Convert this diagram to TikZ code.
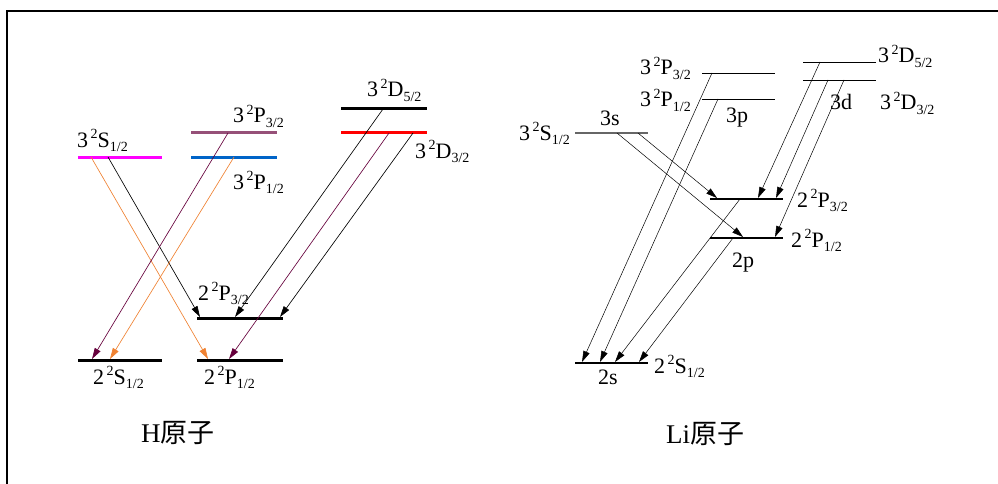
\documentclass[tikz,border=0pt]{standalone}
\usepackage{fontspec}
\setmainfont{Liberation Serif}
\newfontfamily\cjk{Noto Sans CJK SC}
\usetikzlibrary{arrows.meta}
\definecolor{hmag}{RGB}{255,0,255}
\definecolor{hpur}{RGB}{150,80,120}
\definecolor{hblu}{RGB}{0,100,200}
\definecolor{hred}{RGB}{255,0,0}
\definecolor{arpur}{RGB}{102,0,60}
\definecolor{arora}{RGB}{240,130,50}
\newcommand{\lv}[3]{#1\hspace{2.5pt}\raisebox{8.5pt}{\fontsize{14}{14}\selectfont 2}#2\raisebox{-4.5pt}{\fontsize{14}{14}\selectfont #3}}
\begin{document}
\begin{tikzpicture}[x=1pt,y=-1pt,
  hlev/.style={line width=3pt},
  lilev/.style={line width=1.2pt},
  tr/.style={line width=0.65pt,-{Triangle[length=11pt,width=6.5pt]}},
  lbl/.style={anchor=base west,inner sep=0pt,font=\fontsize{22}{24}\selectfont},
  ttl/.style={anchor=base west,inner sep=0pt,font=\fontsize{27}{30}\selectfont}]
\useasboundingbox (0,0) rectangle (998,484);
\fill[white] (0,0) rectangle (998,484);
% frame
\coordinate (f1) at (998,11);
\coordinate (f2) at (7,11);
\coordinate (f3) at (7,484);
\draw[line width=2pt] (f1) -- (f2) -- (f3);

% ---------- H atom levels ----------
\coordinate (hS3l) at (78,157); \coordinate (hS3r) at (162,157);
\coordinate (hP3l) at (191,133); \coordinate (hP3r) at (277,133);
\coordinate (hP1l) at (191,157); \coordinate (hP1r) at (277,157);
\coordinate (hD5l) at (341,109); \coordinate (hD5r) at (427,109);
\coordinate (hD3l) at (341,133); \coordinate (hD3r) at (427,133);
\coordinate (h2P3l) at (197,318); \coordinate (h2P3r) at (283,318);
\coordinate (h2Sl) at (78,360); \coordinate (h2Sr) at (162,360);
\coordinate (h2P1l) at (197,360); \coordinate (h2P1r) at (283,360);
\draw[hlev,hmag] (hS3l) -- (hS3r);
\draw[hlev,hpur] (hP3l) -- (hP3r);
\draw[hlev,hblu] (hP1l) -- (hP1r);
\draw[hlev,black] (hD5l) -- (hD5r);
\draw[hlev,hred] (hD3l) -- (hD3r);
\draw[hlev] (h2P3l) -- (h2P3r);
\draw[hlev] (h2Sl) -- (h2Sr);
\draw[hlev] (h2P1l) -- (h2P1r);

\node[lbl] (lhS3) at (77,147) {\lv{3}{S}{1/2}};
\node[lbl] (lhP3) at (233,123) {\lv{3}{P}{3/2}};
\node[lbl] (lhP1) at (233,189) {\lv{3}{P}{1/2}};
\node[lbl] (lhD5) at (367,97) {\lv{3}{D}{5/2}};
\node[lbl] (lhD3) at (415,158) {\lv{3}{D}{3/2}};
\node[lbl] (lh2P3) at (198,300) {\lv{2}{P}{3/2}};
\node[lbl] (lh2S) at (93,384) {\lv{2}{S}{1/2}};
\node[lbl] (lh2P1) at (204,384) {\lv{2}{P}{1/2}};
\node[ttl] (hname) at (141,442) {H{\cjk 原子}};

% H transitions
\coordinate (ha1) at (91,157);  \coordinate (hb1) at (208,359);
\coordinate (ha2) at (108,157); \coordinate (hb2) at (200,317);
\coordinate (ha3) at (228,133); \coordinate (hb3) at (92,359);
\coordinate (ha4) at (234,157); \coordinate (hb4) at (110,359);
\coordinate (ha5) at (383,109); \coordinate (hb5) at (235,317);
\coordinate (ha6) at (389,133); \coordinate (hb6) at (229,359);
\coordinate (ha7) at (413,133); \coordinate (hb7) at (280,317);
\draw[tr,arora] (ha1) -- (hb1);
\draw[tr,black] (ha2) -- (hb2);
\draw[tr,arpur] (ha3) -- (hb3);
\draw[tr,arora] (ha4) -- (hb4);
\draw[tr,black] (ha5) -- (hb5);
\draw[tr,arpur] (ha6) -- (hb6);
\draw[tr,black] (ha7) -- (hb7);

% ---------- Li atom levels ----------
\coordinate (lS3l) at (575,133); \coordinate (lS3r) at (648,133);
\coordinate (lP3l) at (702,73);  \coordinate (lP3r) at (775,73);
\coordinate (lP1l) at (702,99);  \coordinate (lP1r) at (775,99);
\coordinate (lD5l) at (803,62);  \coordinate (lD5r) at (876,62);
\coordinate (lD3l) at (803,80);  \coordinate (lD3r) at (876,80);
\coordinate (l2P3l) at (710,199); \coordinate (l2P3r) at (783,199);
\coordinate (l2P1l) at (710,238); \coordinate (l2P1r) at (783,238);
\coordinate (l2Sl) at (575,363); \coordinate (l2Sr) at (648,363);
\draw[lilev,black!60] (lS3l) -- (lS3r);
\draw[line width=0.9pt] (lP3l) -- (lP3r);
\draw[line width=0.9pt] (lP1l) -- (lP1r);
\draw[line width=0.9pt] (lD5l) -- (lD5r);
\draw[line width=0.9pt] (lD3l) -- (lD3r);
\draw[lilev] (l2P3l) -- (l2P3r);
\draw[lilev] (l2P1l) -- (l2P1r);
\draw[lilev] (l2Sl) -- (l2Sr);

\node[lbl] (llS3) at (519,140) {\lv{3}{S}{1/2}};
\node[lbl] (l3s) at (600,125) {3s};
\node[lbl] (llP3) at (640,75) {\lv{3}{P}{3/2}};
\node[lbl] (llP1) at (640,107) {\lv{3}{P}{1/2}};
\node[lbl] (l3p) at (726,123) {3p};
\node[lbl] (llD5) at (878,63) {\lv{3}{D}{5/2}};
\node[lbl] (llD3) at (880,110) {\lv{3}{D}{3/2}};
\node[lbl] (l3d) at (830,110) {3d};
\node[lbl] (ll2P3) at (797,207) {\lv{2}{P}{3/2}};
\node[lbl] (ll2P1) at (791,247) {\lv{2}{P}{1/2}};
\node[lbl] (l2p) at (732,267) {2p};
\node[lbl] (ll2S) at (654,373) {\lv{2}{S}{1/2}};
\node[lbl] (l2s) at (598,384) {2s};
\node[ttl] (liname) at (666,443) {Li{\cjk 原子}};

% Li transitions
\coordinate (la1) at (617,133); \coordinate (lb1) at (743,237);
\coordinate (la2) at (638,133); \coordinate (lb2) at (717,198);
\coordinate (la3) at (712,73);  \coordinate (lb3) at (582,362);
\coordinate (la4) at (718,99);  \coordinate (lb4) at (600,362);
\coordinate (la5) at (740,199); \coordinate (lb5) at (615,362);
\coordinate (la6) at (733,238); \coordinate (lb6) at (639,362);
\coordinate (la7) at (820,62);  \coordinate (lb7) at (758,198);
\coordinate (la8) at (828,80);  \coordinate (lb8) at (776,198);
\coordinate (la9) at (844,80);  \coordinate (lb9) at (775,237);
\foreach \i in {1,...,9} \draw[tr,line width=0.5pt] (la\i) -- (lb\i);
\end{tikzpicture}
\end{document}
